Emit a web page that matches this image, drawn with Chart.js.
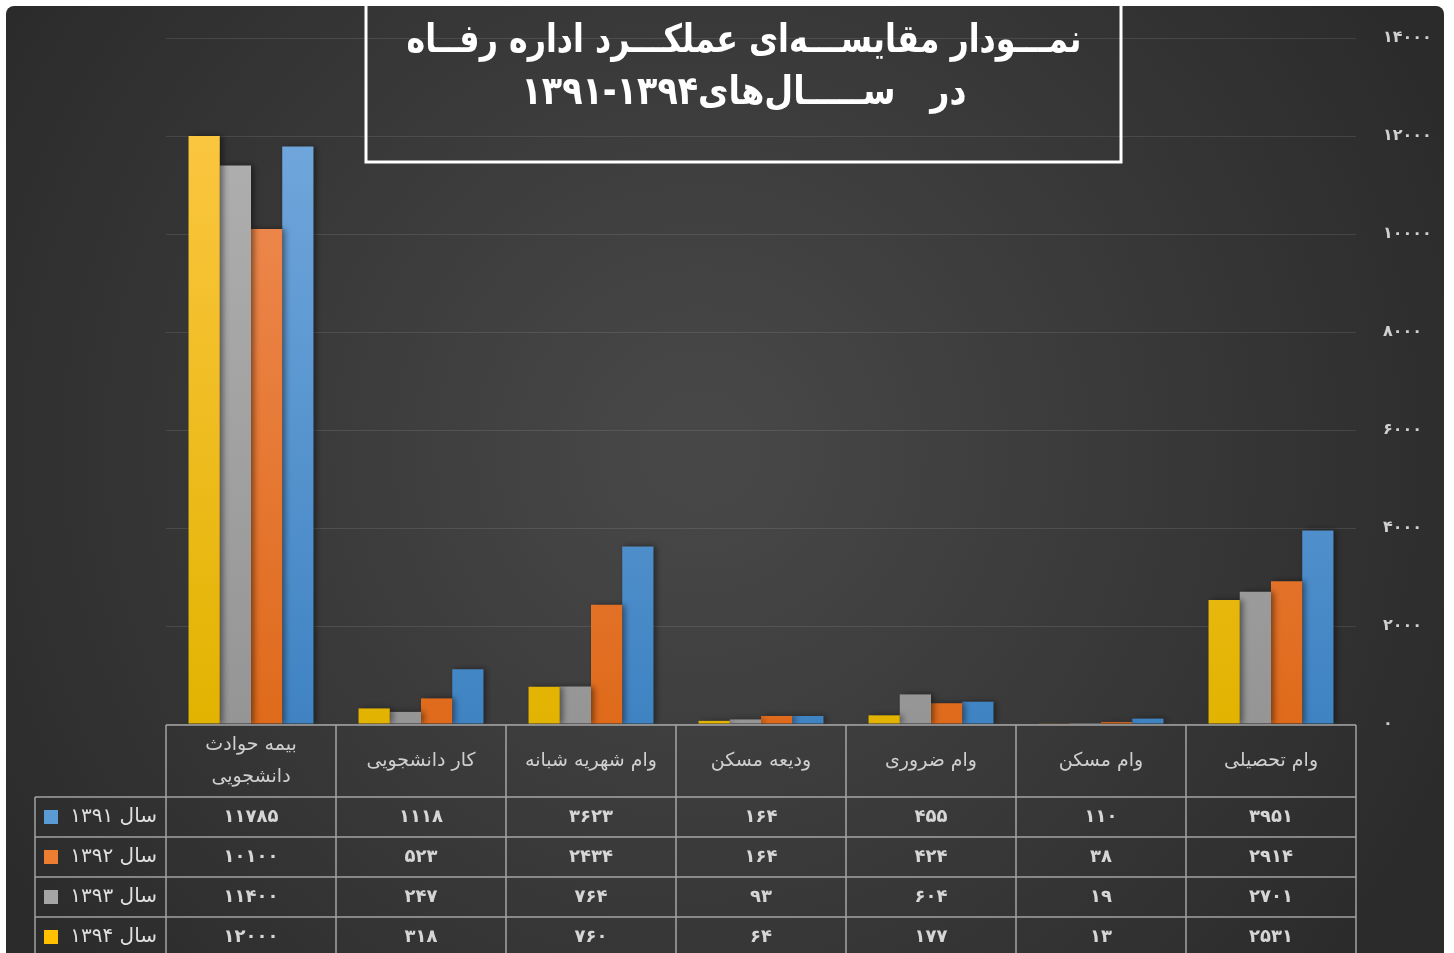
<!DOCTYPE html>
<html lang="fa">
<head>
  <meta charset="UTF-8">
  <title>نمودار مقایسه‌ای عملکرد اداره رفاه</title>
  <script src="https://cdn.jsdelivr.net/npm/chart.js"></script>
  <style>
    body {
      margin: 0;
      background: #ffffff;
    }
    .chart-container {
      position: relative;
      width: 1454px;
      height: 953px;
    }
  </style>
</head>
<body>

  <div class="chart-container">
    <canvas id="welfareChart" width="1454" height="953"></canvas>
  </div>

  <script>
    const categories = [['بیمه حوادث', 'دانشجویی'], 'کار دانشجویی', 'وام شهریه شبانه', 'ودیعه مسکن', 'وام ضروری', 'وام مسکن', 'وام تحصیلی'];
    const years = ['سال ۱۳۹۱', 'سال ۱۳۹۲', 'سال ۱۳۹۳', 'سال ۱۳۹۴'];
    const values1391 = [11785, 1118, 3623, 164, 455, 110, 3951];
    const values1392 = [10100, 523, 2434, 164, 424, 38, 2914];
    const values1393 = [11400, 247, 764, 93, 604, 19, 2701];
    const values1394 = [12000, 318, 760, 64, 177, 13, 2531];
    const yTicks = [0, 2000, 4000, 6000, 8000, 10000, 12000, 14000];

    const titleLines = ['نمـــودار مقایســـه‌ای عملکـــرد اداره رفــاه', 'در   ســـــال‌های۱۳۹۴-۱۳۹۱'];

    // colours: [top, bottom] of the bar gradient, plus flat colour for the legend key
    const colors = {
      blue:   ['#78acdf', '#3f83c3', '#5b9bd5'],
      orange: ['#f1905c', '#df6a1b', '#ed7d31'],
      gray:   ['#b3b3b3', '#959595', '#a5a5a5'],
      yellow: ['#ffc94a', '#e2b300', '#ffc000']
    };

    const FONT = "'DejaVu Sans', sans-serif";
    const toFa = n => String(n).replace(/\d/g, d => '۰۱۲۳۴۵۶۷۸۹'[d]);

    const barGradient = c => (context) => {
      const area = context.chart.chartArea;
      if (!area) return c[2];
      const g = context.chart.ctx.createLinearGradient(0, area.top, 0, area.bottom);
      g.addColorStop(0, c[0]);
      g.addColorStop(1, c[1]);
      return g;
    };

    // dark rounded panel behind everything
    const backgroundPlugin = {
      id: 'panel',
      beforeDraw(chart) {
        const ctx = chart.ctx;
        ctx.save();
        const g = ctx.createRadialGradient(700, 450, 50, 700, 450, 820);
        g.addColorStop(0, '#474747');
        g.addColorStop(1, '#2b2b2b');
        ctx.fillStyle = g;
        ctx.beginPath();
        ctx.roundRect(6, 6, 1438, 960, 8);
        ctx.fill();
        ctx.restore();
      }
    };

    const shadowPlugin = {
      id: 'barShadow',
      beforeDatasetsDraw(chart) {
        const ctx = chart.ctx;
        ctx.save();
        ctx.shadowColor = 'rgba(0,0,0,0.45)';
        ctx.shadowBlur = 6;
        ctx.shadowOffsetX = 3;
        ctx.shadowOffsetY = 0;
      },
      afterDatasetsDraw(chart) {
        chart.ctx.restore();
      }
    };

    // title box + data table under the plot
    const tablePlugin = {
      id: 'dataTable',
      afterDraw(chart) {
        const ctx = chart.ctx;
        const xs = chart.scales.x;
        const area = chart.chartArea;
        const half = (xs.getPixelForValue(1) - xs.getPixelForValue(0)) / 2;
        const edges = categories.map((c, i) => xs.getPixelForValue(i) - half);
        edges.push(xs.getPixelForValue(categories.length - 1) + half);
        const left = edges[0], right = edges[edges.length - 1];
        const top = area.bottom + 1;
        const headH = 72, rowH = 40, keyLeft = 35;
        const bottom = top + headH + rowH * 4 + 10;

        ctx.save();
        // title
        ctx.strokeStyle = '#ffffff';
        ctx.lineWidth = 3;
        ctx.strokeRect(366, 2, 755, 160);
        ctx.fillStyle = '#ffffff';
        ctx.font = 'bold 39px ' + FONT;
        ctx.direction = 'rtl';
        ctx.textAlign = 'center';
        ctx.textBaseline = 'middle';
        ctx.fillText(titleLines[0], 744, 42, 675);
        ctx.fillText(titleLines[1], 744, 94, 445);

        // grid of the table
        ctx.strokeStyle = 'rgba(200,200,200,0.75)';
        ctx.lineWidth = 1.5;
        ctx.beginPath();
        ctx.moveTo(left, top); ctx.lineTo(right, top);
        for (let r = 0; r <= 4; r++) {
          const y = top + headH + r * rowH;
          ctx.moveTo(keyLeft, y); ctx.lineTo(right, y);
        }
        edges.forEach(x => { ctx.moveTo(x, top); ctx.lineTo(x, bottom); });
        ctx.moveTo(keyLeft, top + headH); ctx.lineTo(keyLeft, bottom);
        ctx.stroke();

        // header labels
        ctx.fillStyle = '#cfcfcf';
        ctx.font = '19px ' + FONT;
        categories.forEach((c, i) => {
          const cx = xs.getPixelForValue(i);
          const lines = Array.isArray(c) ? c : [c];
          const cy = top + headH / 2 - (lines.length - 1) * 16;
          lines.forEach((t, k) => ctx.fillText(t, cx, cy + k * 32));
        });

        // rows
        const rows = [values1391, values1392, values1393, values1394];
        const keys = [colors.blue, colors.orange, colors.gray, colors.yellow];
        rows.forEach((vals, r) => {
          const cy = top + headH + r * rowH + rowH / 2;
          ctx.fillStyle = '#d6d6d6';
          ctx.font = 'bold 18px ' + FONT;
          ctx.textAlign = 'center';
          vals.forEach((v, i) => ctx.fillText(toFa(v), xs.getPixelForValue(i), cy));
          ctx.fillStyle = keys[r][2];
          ctx.fillRect(44, cy - 7, 14, 14);
          ctx.fillStyle = '#e0e0e0';
          ctx.font = '20px ' + FONT;
          ctx.textAlign = 'right';
          ctx.fillText(years[r], 157, cy);
        });
        ctx.restore();
      }
    };

    const ctx = document.getElementById('welfareChart').getContext('2d');
    const welfareChart = new Chart(ctx, {
      type: 'bar',
      data: {
        labels: categories,
        datasets: [
          { label: years[3], data: values1394, backgroundColor: barGradient(colors.yellow) },
          { label: years[2], data: values1393, backgroundColor: barGradient(colors.gray) },
          { label: years[1], data: values1392, backgroundColor: barGradient(colors.orange) },
          { label: years[0], data: values1391, backgroundColor: barGradient(colors.blue) }
        ]
      },
      options: {
        responsive: false,
        animation: false,
        layout: {
          padding: { left: 166, top: 38, bottom: 229, right: 0 }
        },
        datasets: {
          bar: { categoryPercentage: 0.735, barPercentage: 1.0 }
        },
        plugins: {
          legend: { display: false },
          tooltip: { enabled: false }
        },
        scales: {
          x: { display: false },
          y: {
            position: 'right',
            min: 0,
            max: 14000,
            afterBuildTicks: axis => { axis.ticks = yTicks.map(v => ({ value: v })); },
            afterFit: axis => { axis.width = 98; },
            border: { display: false },
            grid: { color: 'rgba(255,255,255,0.1)', drawTicks: false },
            ticks: {
              padding: 27,
              color: '#d0d0d0',
              font: { family: 'DejaVu Sans', size: 16, weight: 'bold' },
              callback: v => toFa(v)
            }
          }
        }
      },
      plugins: [backgroundPlugin, shadowPlugin, tablePlugin]
    });
  </script>

</body>
</html>
